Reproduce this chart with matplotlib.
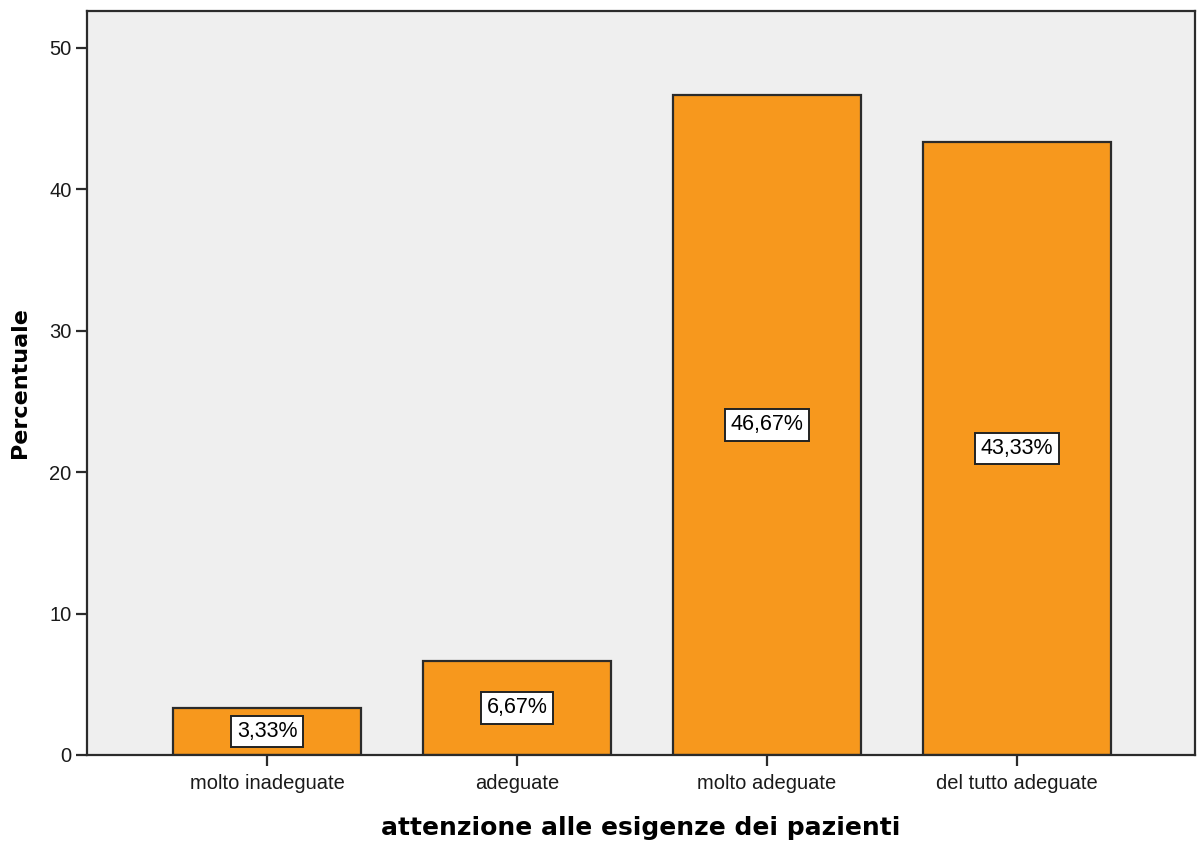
import matplotlib
matplotlib.use("Agg")
import matplotlib.pyplot as plt

categories = ["molto inadeguate", "adeguate", "molto adeguate", "del tutto adeguate"]
values = [3.33, 6.67, 46.67, 43.33]
bar_labels = ["3,33%", "6,67%", "46,67%", "43,33%"]
yticks = [0, 10, 20, 30, 40, 50]

DPI = 100
fig = plt.figure(figsize=(11.97, 8.42), dpi=DPI)
ax = fig.add_axes([87/1197, 87/842, (1195-87)/1197, (755-11)/842])
ax.set_facecolor("#EFEFEF")

x = list(range(len(categories)))
ax.bar(x, values, width=0.752, color="#F7981D", edgecolor="#2b2b2b", linewidth=1.6, zorder=2)

for xi, v, lab in zip(x, values, bar_labels):
    ax.text(xi, v / 2, lab, ha="center", va="center", fontsize=15.5,
            family="Liberation Sans", color="black", zorder=3,
            bbox=dict(boxstyle="square,pad=0.25", facecolor="white", edgecolor="#222222", linewidth=1.4))

ax.set_xlim(-0.72, 3.712)
ax.set_ylim(0, 52.6)
ax.set_xticks(x)
ax.set_xticklabels(categories, family="Liberation Sans", fontsize=14.5)
ax.set_yticks(yticks)
ax.set_yticklabels([str(t) for t in yticks], family="Liberation Sans", fontsize=14.5)
ax.tick_params(axis="both", direction="out", length=8, width=1.6, color="#2b2b2b", labelcolor="#1a1a1a")
ax.tick_params(axis="y", pad=3)
ax.tick_params(axis="x", pad=6)

for s in ax.spines.values():
    s.set_color("#2b2b2b")
    s.set_linewidth(1.6)

ax.set_xlabel("attenzione alle esigenze dei pazienti", family="DejaVu Sans", fontweight="bold",
              fontsize=18, labelpad=16)
ax.set_ylabel("Percentuale", family="DejaVu Sans", fontweight="bold", fontsize=16, labelpad=14)

fig.savefig("out.png", dpi=DPI, facecolor="white")
